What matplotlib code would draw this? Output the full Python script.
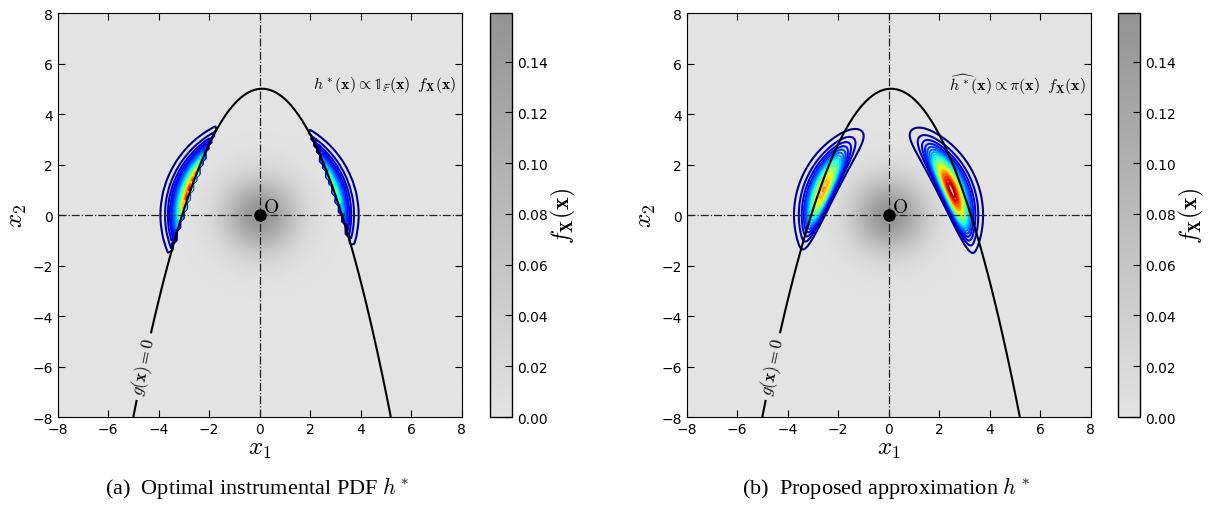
import numpy as np
import matplotlib.pyplot as plt
import matplotlib.colors as mcolors
from math import erf

plt.rcParams['mathtext.fontset'] = 'cm'
plt.rcParams['font.family'] = 'DejaVu Sans'

# axis range and ticks
x_lim = [-8, 8]
ticks = [-8, -6, -4, -2, 0, 2, 4, 6, 8]
cbar_ticks = [0.0, 0.02, 0.04, 0.06, 0.08, 0.10, 0.12, 0.14]

# limit state g(x) = G_A - x2 - G_B * (x1 - G_C)^2
G_A = 5.0
G_B = 0.5
G_C = 0.1

# smooth classifier pi(x) = Phi(-g~(x) / PI_SIG), g~ = PI_A - x2 - PI_B * (x1 - PI_C)^2
PI_A = 3.95
PI_B = 0.5
PI_C = -0.05
PI_SIG = 0.45

n_levels = [30, 22]
n_coarse = 129     # grid used for the indicator based h*
n_fine = 321

captions = ['(a)  Optimal instrumental PDF $h^*$', '(b)  Proposed approximation $h^*$']
notes = [r'$h^*(\mathbf{x})\propto \mathbb{1}_{\mathbb{F}}(\mathbf{x})\;\; f_{\mathbf{X}}(\mathbf{x})$',
         r'$\widehat{h^*}(\mathbf{x})\propto \pi(\mathbf{x})\;\; f_{\mathbf{X}}(\mathbf{x})$']


def pdf(x1, x2):
    return np.exp(-0.5 * (x1 ** 2 + x2 ** 2)) / (2 * np.pi)


def g(x1, x2):
    return G_A - x2 - G_B * (x1 - G_C) ** 2


phi = np.vectorize(lambda t: 0.5 * (1 + erf(t / np.sqrt(2))))

xf = np.linspace(x_lim[0], x_lim[1], n_fine)
X1, X2 = np.meshgrid(xf, xf)
F = pdf(X1, X2)
G = g(X1, X2)

xc = np.linspace(x_lim[0], x_lim[1], n_coarse)
C1, C2 = np.meshgrid(xc, xc)
H_opt = pdf(C1, C2) * (g(C1, C2) <= 0)

G_t = PI_A - X2 - PI_B * (X1 - PI_C) ** 2
H_app = F * phi(-G_t / PI_SIG)

gray = mcolors.LinearSegmentedColormap.from_list('bg', ['#e3e3e3', '#939393'])

fig = plt.figure(figsize=(12.08, 5.06), dpi=100)
axes_pos = [[0.0472, 0.1739, 0.3353, 0.7984], [0.5679, 0.1739, 0.3353, 0.7984]]
cbar_pos = [[0.4056, 0.1739, 0.0182, 0.7984], [0.9255, 0.1739, 0.0182, 0.7984]]

for k, H in enumerate([H_opt, H_app]):
    ax = fig.add_axes(axes_pos[k])
    cax = fig.add_axes(cbar_pos[k])
    im = ax.imshow(F, extent=[x_lim[0], x_lim[1], x_lim[0], x_lim[1]], origin='lower',
                   cmap=gray, vmin=0, vmax=F.max(), interpolation='bilinear')
    levels = np.linspace(0, H.max(), n_levels[k] + 1)[1:]
    if k == 0:
        ax.contour(C1, C2, H, levels=levels, cmap='jet', linewidths=1.5, zorder=2)
    else:
        ax.contour(X1, X2, H, levels=levels, cmap='jet', linewidths=1.5, zorder=2)

    ax.axhline(0, color='#222222', ls='-.', lw=0.9, zorder=3)
    ax.axvline(0, color='#222222', ls='-.', lw=0.9, zorder=3)
    cs = ax.contour(X1, X2, G, levels=[0.0], colors='k', linewidths=1.5, zorder=4)
    ax.clabel(cs, fmt={0.0: r'$g(\mathbf{x})=0$'}, manual=[(-4.6, -6.0)], inline=True,
              fontsize=12)
    ax.plot([0], [0], 'o', color='k', ms=8, zorder=5)
    ax.text(0.12, 0.1, r'$\mathrm{O}$', fontsize=14, zorder=5)
    ax.text(7.8, 5.2, notes[k], ha='right', va='center', fontsize=11.5)

    ax.set_xlim(x_lim)
    ax.set_ylim(x_lim)
    ax.set_xticks(ticks)
    ax.set_yticks(ticks)
    ax.tick_params(direction='in', top=True, right=True, length=5, labelsize=10)
    ax.set_xlabel(r'$x_1$', fontsize=18, labelpad=0)
    ax.set_ylabel(r'$x_2$', fontsize=18, labelpad=2)

    cb = fig.colorbar(im, cax=cax, ticks=cbar_ticks)
    cb.ax.tick_params(direction='in', length=5, labelsize=10)
    cb.set_label(r'$f_{\mathbf{X}}(\mathbf{x})$', fontsize=17, labelpad=1)
    cb.outline.set_linewidth(1)

    fig.text(axes_pos[k][0] + axes_pos[k][2] / 2 - 0.002, 0.036, captions[k], ha='center',
             va='center', fontsize=16, family='Liberation Serif')

fig.savefig('out.png', dpi=100)
